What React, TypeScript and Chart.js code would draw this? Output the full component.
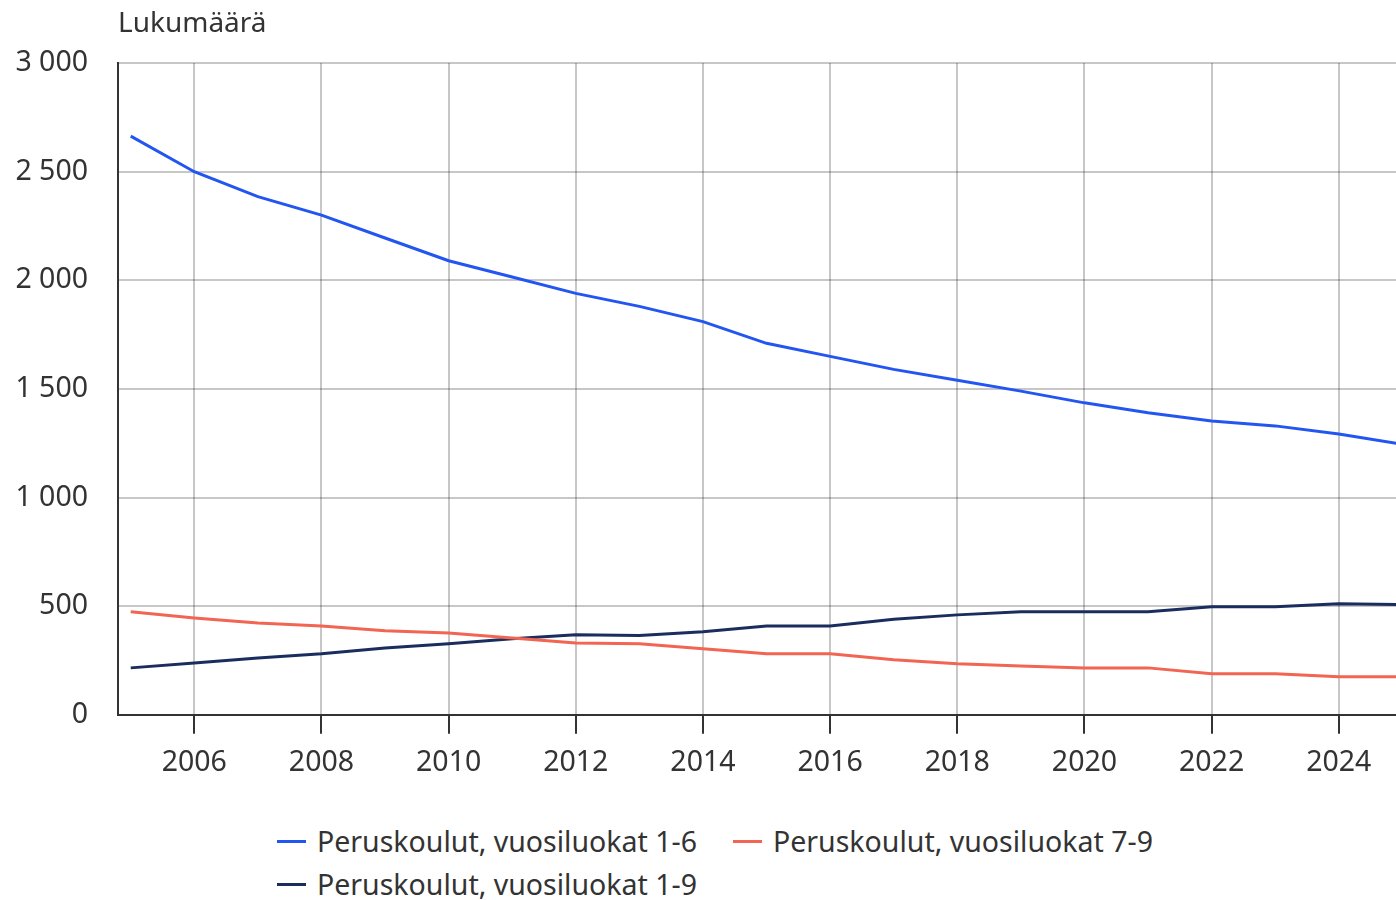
import React, { useEffect, useRef } from "react";
import { Chart, registerables } from "chart.js";

Chart.register(...registerables);

const years = [2005, 2006, 2007, 2008, 2009, 2010, 2011, 2012, 2013, 2014, 2015, 2016, 2017, 2018, 2019, 2020, 2021, 2022, 2023, 2024, 2025];
const grades1to6 = [2664, 2500, 2385, 2300, 2195, 2090, 2015, 1940, 1880, 1810, 1710, 1650, 1590, 1540, 1490, 1436, 1390, 1353, 1330, 1293, 1245];
const grades7to9 = [474, 446, 423, 409, 387, 377, 354, 331, 327, 304, 281, 281, 253, 235, 225, 216, 216, 189, 189, 175, 175];
const grades1to9 = [216, 239, 262, 281, 308, 327, 350, 368, 365, 382, 409, 409, 440, 460, 474, 474, 474, 497, 497, 511, 508];

const seriesNames = ["Peruskoulut, vuosiluokat 1-6", "Peruskoulut, vuosiluokat 7-9", "Peruskoulut, vuosiluokat 1-9"];
const seriesColors = ["#2356f0", "#f26552", "#1a2d5e"];
const yTicks = [0, 500, 1000, 1500, 2000, 2500, 3000];
const axisTitle = "Lukumäärä";

const FONT = "'Noto Sans', 'Open Sans', sans-serif";
const TEXT = "#333333";
const FS = 28.5;

function fmt(v: number): string {
  return String(v).replace(/\B(?=(\d{3})+(?!\d))/g, " ");
}

export default function App() {
  const ref = useRef<HTMLCanvasElement | null>(null);

  useEffect(() => {
    if (!ref.current) return;
    const allSeries = [grades1to6, grades7to9, grades1to9];
    const chart = new Chart(ref.current, {
      type: "line",
      data: {
        datasets: allSeries.map((s, i) => ({
          label: seriesNames[i],
          data: s.map((v, j) => ({ x: years[j], y: v })),
          borderColor: seriesColors[i],
          backgroundColor: seriesColors[i],
          borderWidth: 3,
          pointRadius: 0,
          tension: 0,
          fill: false,
        })),
      },
      options: {
        responsive: false,
        animation: false,
        layout: { padding: { left: 15, right: 0, top: 0, bottom: 0 } },
        plugins: {
          legend: { display: false },
          tooltip: { enabled: false },
          title: {
            display: true,
            text: axisTitle,
            align: "start",
            fullSize: false,
            color: TEXT,
            font: { family: FONT, size: 28, weight: "normal" },
            padding: { top: 7.5, bottom: 22 },
          },
        },
        scales: {
          x: {
            type: "linear",
            min: 2004.8,
            max: 2024.9,
            ticks: {
              stepSize: 2,
              includeBounds: false,
              color: TEXT,
              font: { family: FONT, size: FS },
              padding: 12,
              maxRotation: 0,
              callback: (v: any) => String(v),
            },
            grid: {
              color: "rgba(0,0,0,0.22)",
              lineWidth: 2,
              tickColor: "#333333",
              tickLength: 19,
              drawTicks: true,
            },
            border: { color: "#333333", width: 2 },
          },
          y: {
            min: 0,
            max: 3000,
            afterBuildTicks: (scale: any) => {
              scale.ticks = yTicks.map((v) => ({ value: v }));
            },
            afterFit: (scale: any) => {
              scale.width = 103;
            },
            ticks: {
              color: TEXT,
              font: { family: FONT, size: FS },
              padding: 30,
              callback: (v: any) => fmt(Number(v)),
            },
            grid: {
              color: "rgba(0,0,0,0.22)",
              lineWidth: 2,
              drawTicks: false,
            },
            border: { color: "#333333", width: 2 },
          },
        },
      },
    });
    return () => chart.destroy();
  }, []);

  const legendItem = (i: number, left: number, top: number) => (
    <div
      key={i}
      style={{
        position: "absolute",
        left,
        top,
        display: "flex",
        alignItems: "center",
        height: 34,
        whiteSpace: "nowrap",
      }}
    >
      <span style={{ display: "inline-block", width: 29, height: 3, background: seriesColors[i], marginRight: 11 }} />
      <span style={{ fontFamily: FONT, fontSize: FS, color: TEXT }}>{seriesNames[i]}</span>
    </div>
  );

  return (
    <div style={{ position: "absolute", left: 0, top: 0, width: 1396, height: 900, overflow: "hidden", background: "#fff" }}>
      <canvas ref={ref} width={1396} height={792} style={{ display: "block" }} />
      {legendItem(0, 277, 824)}
      {legendItem(1, 733, 824)}
      {legendItem(2, 277, 867)}
    </div>
  );
}
